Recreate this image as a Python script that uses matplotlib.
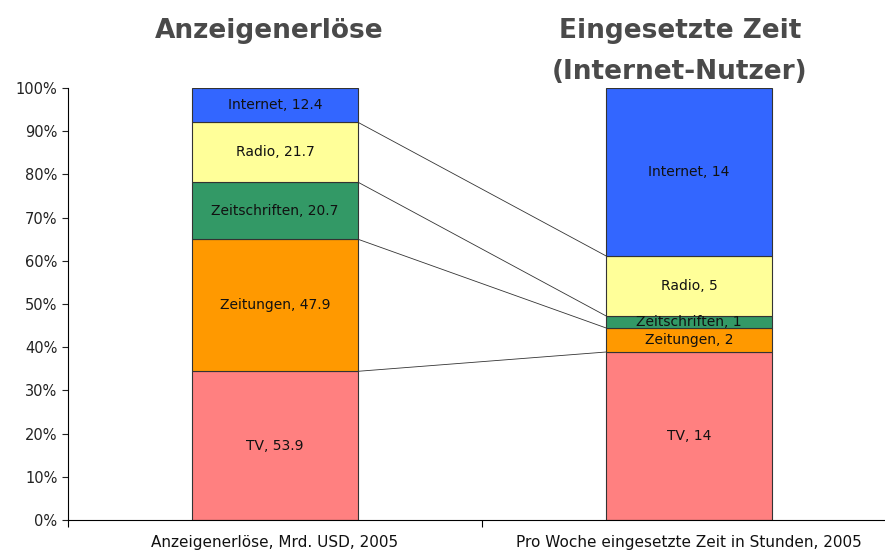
import matplotlib.pyplot as plt
import numpy as np
from matplotlib.ticker import PercentFormatter

plt.rcParams['font.family'] = ['DejaVu Sans']

# data
categories = ["Anzeigenerlöse, Mrd. USD, 2005", "Pro Woche eingesetzte Zeit in Stunden, 2005"]
media = ["TV", "Zeitungen", "Zeitschriften", "Radio", "Internet"]
revenue = [53.9, 47.9, 20.7, 21.7, 12.4]
hours = [14, 2, 1, 5, 14]
colors = ["#FF8080", "#FF9900", "#339966", "#FFFF99", "#3366FF"]

fig = plt.figure(figsize=(8.85, 5.5), dpi=100)
# axes runs slightly past the right edge, like the original slide
ax = fig.add_axes([68 / 885, 30 / 550, 828 / 885, 432 / 550])

bar_w = 0.4
xpos = np.array([0.5, 1.5])
series = [revenue, hours]

tops = []
for x, vals in zip(xpos, series):
    vals = np.array(vals, dtype=float)
    share = vals / vals.sum()
    bottom = 0.0
    cum = []
    for name, v, s, c in zip(media, vals, share, colors):
        ax.bar(x, s, bar_w, bottom=bottom, color=c, edgecolor="#333333", linewidth=0.8, zorder=2)
        label = f"{name}, {v:g}"
        ax.text(x, bottom + s / 2, label, ha="center", va="center", fontsize=10, color="#111111", zorder=3)
        bottom += s
        cum.append(bottom)
    tops.append(cum)

# connector lines between segment tops (except the 100% line)
for i in range(len(media) - 1):
    ax.plot([xpos[0] + bar_w / 2, xpos[1] - bar_w / 2], [tops[0][i], tops[1][i]],
            color="#333333", linewidth=0.6, zorder=1)

ax.set_xlim(0, 2)
ax.set_ylim(0, 1)
ax.yaxis.set_major_formatter(PercentFormatter(1.0, decimals=0))
ax.set_yticks(np.linspace(0, 1, 11))
ax.tick_params(axis="y", labelsize=10.5, length=4, direction="out", colors="#222222")

ax.set_xticks([0, 1, 2])
ax.set_xticklabels([])
ax.set_xticks(xpos, minor=True)
ax.set_xticklabels(categories, minor=True)
ax.tick_params(axis="x", which="major", length=5, direction="out")
ax.tick_params(axis="x", which="minor", length=0, pad=11, labelsize=11, colors="#111111")

for s in ["top", "right"]:
    ax.spines[s].set_visible(False)

# titles (first line of the right title sits mostly above the canvas, as in the slide)
tcol = "#4a4a4a"
fig.text(269 / 885, 1 - 31 / 550, "Anzeigenerlöse", ha="center", va="center",
         fontsize=19, fontweight="bold", color=tcol)
fig.text(803 / 885, 1 + 13 / 550, "Nutzung (Std.)", ha="right", va="center",
         fontsize=19, fontweight="bold", color=tcol)
fig.text(680 / 885, 1 - 31 / 550, "Eingesetzte Zeit", ha="center", va="center",
         fontsize=19, fontweight="bold", color=tcol)
fig.text(680 / 885, 1 - 72 / 550, "(Internet-Nutzer)", ha="center", va="center",
         fontsize=19, fontweight="bold", color=tcol)

fig.savefig("out.png", dpi=100)
